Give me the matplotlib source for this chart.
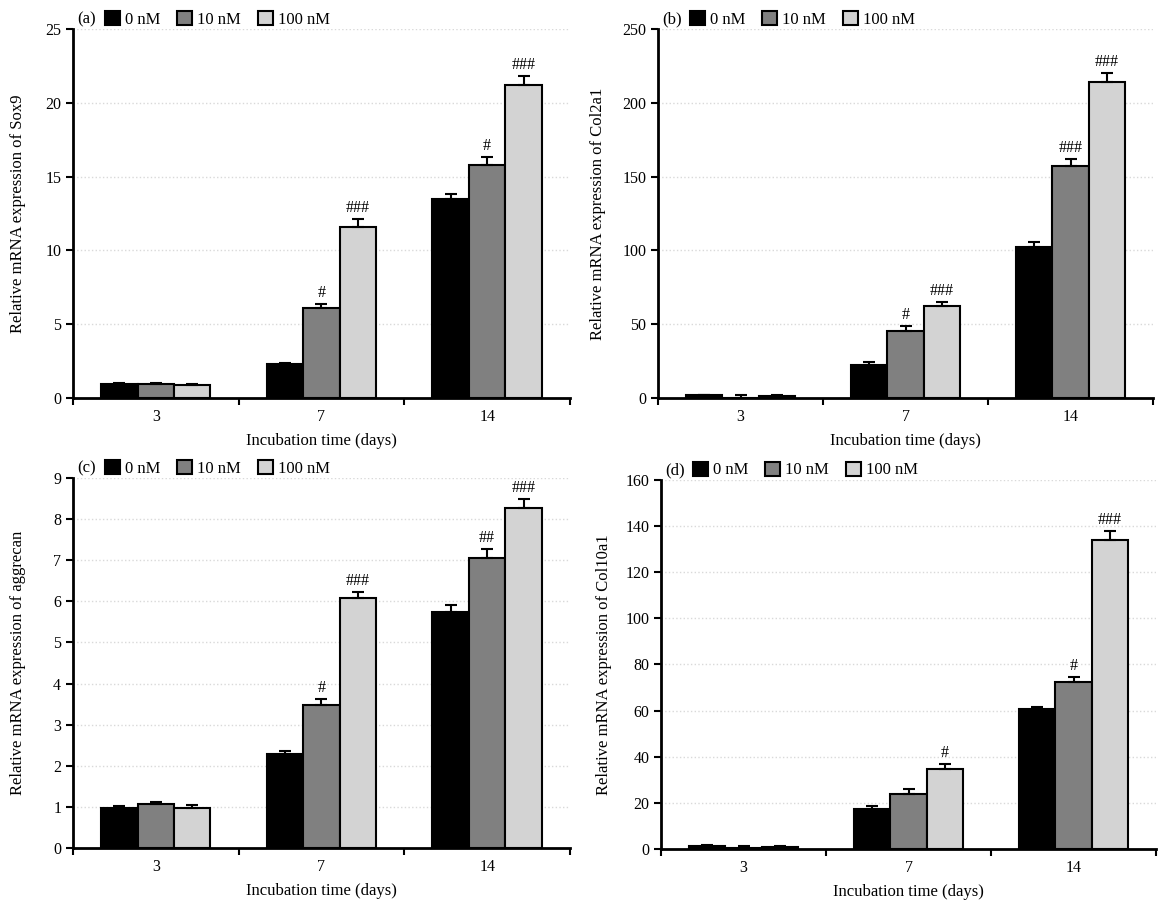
import numpy as np
import matplotlib.pyplot as plt

plt.rcParams['font.family'] = ['Liberation Serif', 'DejaVu Serif']
plt.rcParams['font.size'] = 11.5

days = ['3', '7', '14']
doses = ['0 nM', '10 nM', '100 nM']
colors = ['#000000', '#808080', '#d3d3d3']

# values per dose (rows) x day (cols)
sox9 = [[0.95, 2.3, 13.5], [0.95, 6.1, 15.8], [0.9, 11.6, 21.2]]
sox9_err = [[0.05, 0.1, 0.3], [0.08, 0.3, 0.5], [0.08, 0.5, 0.6]]
sox9_sig = [['', '', ''], ['', '#', '#'], ['', '###', '###']]

col2a1 = [[2.0, 22.5, 102], [0.3, 45.5, 157], [1.5, 62, 214]]
col2a1_err = [[0.3, 2, 4], [1.8, 3, 5], [0.5, 3, 6]]
col2a1_sig = [['', '', ''], ['', '#', '###'], ['', '###', '###']]

aggrecan = [[0.97, 2.28, 5.75], [1.08, 3.47, 7.05], [0.97, 6.08, 8.28]]
aggrecan_err = [[0.04, 0.08, 0.15], [0.04, 0.15, 0.22], [0.07, 0.15, 0.22]]
aggrecan_sig = [['', '', ''], ['', '#', '##'], ['', '###', '###']]

col10a1 = [[1.3, 17.5, 60.5], [0.5, 24, 72.5], [0.8, 34.5, 134]]
col10a1_err = [[0.2, 1, 1], [0.8, 2, 2], [0.5, 2.5, 4]]
col10a1_sig = [['', '', ''], ['', '', '#'], ['', '#', '###']]

# label, gene, data, errors, marks, ymax, step, axes rect, ylabel x (px)
panels = [
    ('(a)', 'Sox9', sox9, sox9_err, sox9_sig, 25, 5, [0.0625, 0.5607, 0.4255, 0.4073], 26),
    ('(b)', 'Col2a1', col2a1, col2a1_err, col2a1_sig, 250, 50, [0.5634, 0.5607, 0.4238, 0.4073], 606),
    ('(c)', 'aggrecan', aggrecan, aggrecan_err, aggrecan_sig, 9, 1, [0.0625, 0.064, 0.4255, 0.4084], 26),
    ('(d)', 'Col10a1', col10a1, col10a1_err, col10a1_sig, 160, 20, [0.5660, 0.063, 0.4238, 0.4073], 612),
]

W, H = 1168, 906
fig = plt.figure(figsize=(W / 100, H / 100), dpi=100)

for label, gene, vals, errs, sigs, ymax, step, pos, ylx in panels:
    ax = fig.add_axes(pos)
    x = np.arange(len(days))
    w = 0.22
    for i in range(len(doses)):
        xs = x + (i - 1) * w
        ax.bar(xs, vals[i], width=w, color=colors[i], edgecolor='black',
               linewidth=1.5, label=doses[i], zorder=3)
        ax.errorbar(xs, vals[i], yerr=[np.zeros(3), errs[i]], fmt='none',
                    ecolor='black', elinewidth=1.5, capsize=4, capthick=1.5, zorder=4)
        for j in range(len(days)):
            if sigs[i][j]:
                ax.text(xs[j], vals[i][j] + errs[i][j] + ymax * 0.008, sigs[i][j],
                        ha='center', va='bottom', fontsize=11.5, zorder=5)
    ax.set_xlim(-0.5, 2.5)
    ax.set_ylim(0, ymax)
    ax.set_yticks(np.arange(0, ymax + step / 2, step))
    ax.set_xticks([-0.5, 0.5, 1.5, 2.5])
    ax.set_xticklabels([])
    ax.set_xticks(x, minor=True)
    ax.set_xticklabels(days, minor=True)
    ax.tick_params(axis='x', which='minor', length=0, pad=8)
    ax.tick_params(axis='x', which='major', length=5, width=1.5, direction='out')
    ax.tick_params(axis='y', length=5, width=1.5, direction='out')
    ax.yaxis.grid(True, color='#d9d9d9', linestyle=':', linewidth=1, zorder=0)
    ax.set_axisbelow(True)
    for s in ['top', 'right']:
        ax.spines[s].set_visible(False)
    for s in ['left', 'bottom']:
        ax.spines[s].set_linewidth(2)
    ax.set_ylabel('Relative mRNA expression of ' + gene, fontsize=12)
    ax.yaxis.set_label_coords((ylx - pos[0] * W) / (pos[2] * W), 0.5)
    ax.set_xlabel('Incubation time (days)', fontsize=12, labelpad=6)
    ax.text(0.008, 1.0 + 10 / (pos[3] * H), label, transform=ax.transAxes,
            ha='left', va='center', fontsize=12)
    ax.legend(loc='lower left', bbox_to_anchor=(0.065, 1.004), ncol=3, frameon=False,
              handlelength=0.9, handleheight=0.9, handletextpad=0.3, columnspacing=1.0,
              borderaxespad=0, borderpad=0, fontsize=12)

fig.savefig('out.png', dpi=100)
